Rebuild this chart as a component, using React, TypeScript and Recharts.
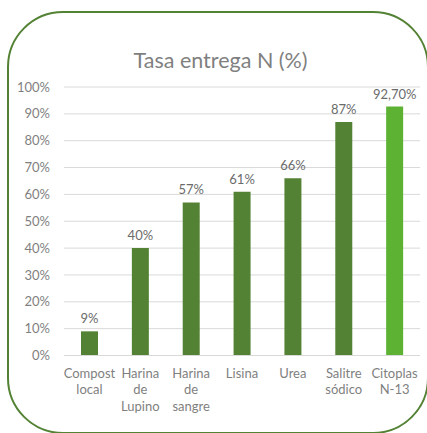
import { BarChart, Bar, XAxis, YAxis, CartesianGrid, LabelList, Cell } from 'recharts';

const categories = ['Compost local', 'Harina de Lupino', 'Harina de sangre', 'Lisina', 'Urea', 'Salitre sódico', 'Citoplas N-13'];
const rates = [9, 40, 57, 61, 66, 87, 92.7];
const rateLabels = ['9%', '40%', '57%', '61%', '66%', '87%', '92,70%'];
const yTicks = [0, 10, 20, 30, 40, 50, 60, 70, 80, 90, 100];

const data = categories.map((name, i) => ({ name, rate: rates[i], label: rateLabels[i] }));

const FONT = 'Lato, "Open Sans", sans-serif';
const DARK = '#548235';
const LIGHT = '#5db233';

// excel-ish word wrap on narrow category slots
const wrap = (s: string, max = 8) => {
    const lines: string[] = [];
    let cur = '';
    s.split(' ').forEach(w => {
        if (cur && (cur + ' ' + w).length > max) {
            lines.push(cur);
            cur = w;
        } else {
            cur = cur ? cur + ' ' + w : w;
        }
    });
    if (cur) lines.push(cur);
    return lines;
};

const CategoryTick = (props: any) => {
    const { x, y, payload } = props;
    const lines = wrap(payload.value);
    return (
        <text x={x} y={y} textAnchor="middle" fill="#7f7f7f" fontSize={13} fontFamily={FONT}>
            {lines.map((l, i) => (
                <tspan key={i} x={x} dy={i === 0 ? 14 : 16.7}>{l}</tspan>
            ))}
        </text>
    );
};

const App = () => {
    return (
        <div style={{ position: 'absolute', left: 0, top: 0, width: 427, height: 433, overflow: 'hidden', background: '#fff' }}>
            <div style={{
                position: 'absolute', left: 7, top: 11, width: 422, height: 423,
                boxSizing: 'border-box', border: `2.5px solid ${DARK}`, borderRadius: 56,
            }} />
            <div style={{
                position: 'absolute', left: 0, top: 47, width: 441, textAlign: 'center',
                fontFamily: FONT, fontSize: 21.5, color: '#7f7f7f',
            }}>
                Tasa entrega N (%)
            </div>
            <div style={{ position: 'absolute', left: 0, top: 0 }}>
                <BarChart width={427} height={433} data={data} margin={{ top: 87, right: 7, bottom: 0, left: 0 }} barSize={17}>
                    <CartesianGrid vertical={false} stroke="#d9d9d9" />
                    <XAxis dataKey="name" height={77.5} axisLine={{ stroke: '#d9d9d9' }} tickLine={false} tick={<CategoryTick />} interval={0} />
                    <YAxis
                        width={64}
                        domain={[0, 100]}
                        ticks={yTicks}
                        tickFormatter={(v: number) => `${v}%`}
                        axisLine={false}
                        tickLine={false}
                        tick={{ fill: '#7f7f7f', fontSize: 13, fontFamily: FONT }}
                        tickMargin={8}
                    />
                    <Bar dataKey="rate" isAnimationActive={false}>
                        {data.map((d, i) => (
                            <Cell key={d.name} fill={i === data.length - 1 ? LIGHT : DARK} />
                        ))}
                        <LabelList dataKey="label" position="top" offset={8} fill="#6b6b6b" fontSize={13} fontFamily={FONT} />
                    </Bar>
                </BarChart>
            </div>
        </div>
    );
};

export default App;
